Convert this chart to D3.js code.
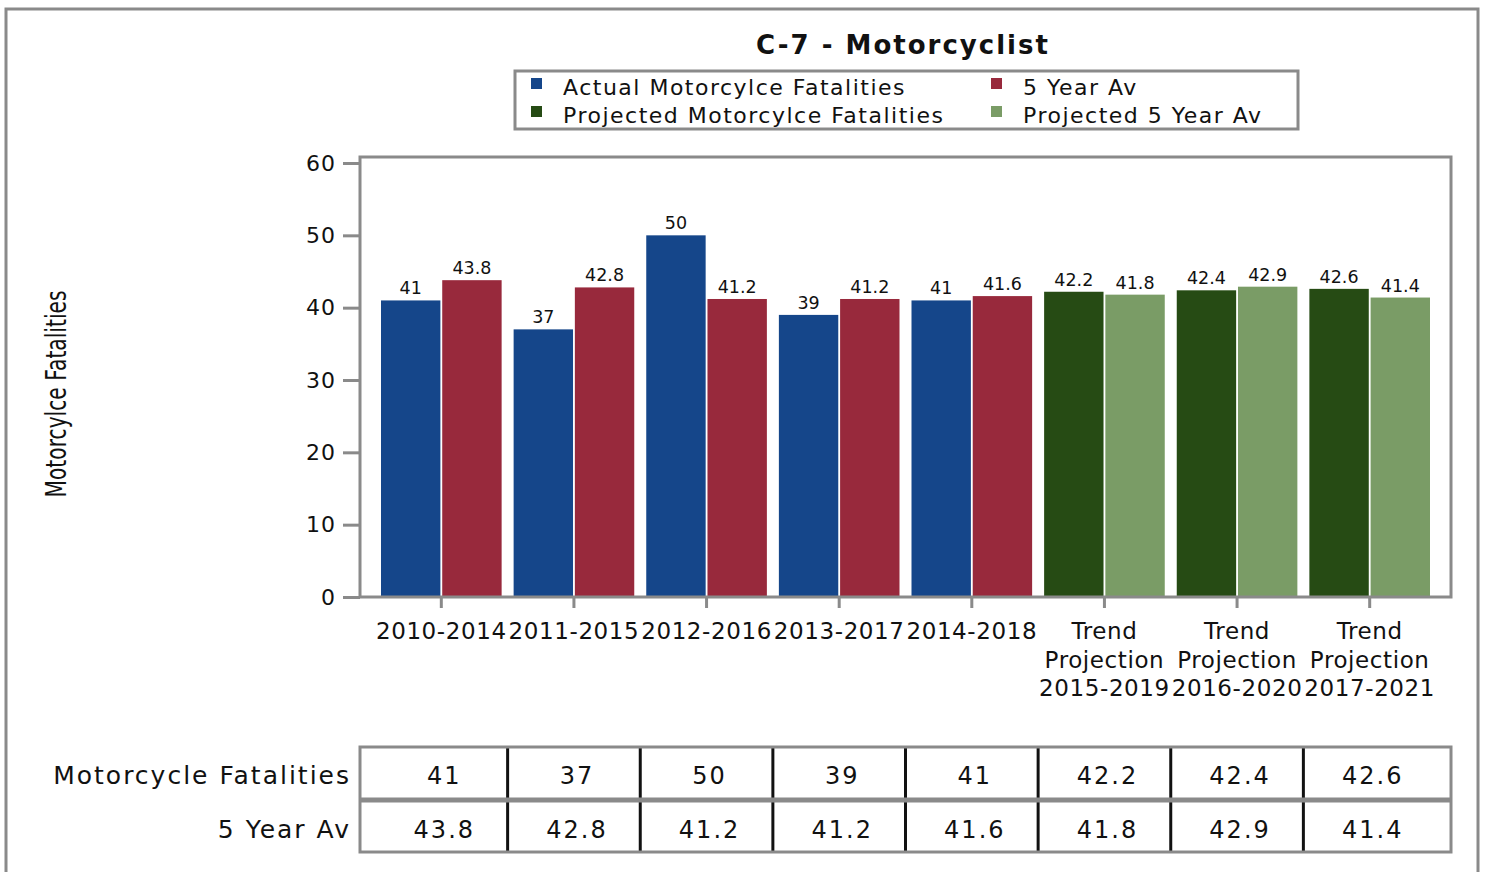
<!DOCTYPE html>
<html>
<head>
<meta charset="utf-8">
<script src="https://cdn.jsdelivr.net/npm/d3@7"></script>
<style>
  body { margin: 0; background: #fff; }
  svg text { font-family: "DejaVu Sans", Verdana, sans-serif; fill: #111; }
</style>
</head>
<body>
<svg id="chart" width="1487" height="872"></svg>
<script>
// chart data
let categories = [
  ["2010-2014"], ["2011-2015"], ["2012-2016"], ["2013-2017"], ["2014-2018"],
  ["Trend", "Projection", "2015-2019"], ["Trend", "Projection", "2016-2020"], ["Trend", "Projection", "2017-2021"]
]
let fatalities = [41, 37, 50, 39, 41, 42.2, 42.4, 42.6]
let fiveYearAv = [43.8, 42.8, 41.2, 41.2, 41.6, 41.8, 42.9, 41.4]
let projected = [false, false, false, false, false, true, true, true]
let yTicks = [0, 10, 20, 30, 40, 50, 60]
let legendItems = ["Actual Motorcylce Fatalities", "5 Year Av", "Projected Motorcylce Fatalities", "Projected 5 Year Av"]
let tableRows = ["Motorcycle Fatalities", "5 Year Av"]

const colors = {
  actual: "#15468a", avg: "#98293c", projActual: "#264b14", projAvg: "#7a9c66"
}
const legendColors = [colors.actual, colors.avg, colors.projActual, colors.projAvg]
const gray = "#8a8a8a"

let svg = d3.select("#chart")

// outer frame
svg.append("rect")
  .attr("x", 6).attr("y", 9).attr("width", 1472).attr("height", 900)
  .attr("fill", "none").attr("stroke", gray).attr("stroke-width", 3)

const plot = { left: 360, right: 1451, top: 157, bottom: 597 }

let x = d3.scaleBand()
  .domain(d3.range(categories.length))
  .range([375, 1436])
  .padding(0)

let inner = d3.scaleBand()
  .domain(["a", "b"])
  .range([6, x.bandwidth() - 6])
  .paddingInner(0.03)

let y = d3.scaleLinear()
  .domain([0, 60])
  .range([plot.bottom, 163])

// title
svg.append("text")
  .attr("x", 903).attr("y", 54)
  .attr("text-anchor", "middle")
  .style("font-size", "26px").style("font-weight", "bold")
  .style("letter-spacing", "2px")
  .text("C-7 - Motorcyclist")

// legend
svg.append("rect")
  .attr("x", 515).attr("y", 71).attr("width", 783).attr("height", 58)
  .attr("fill", "none").attr("stroke", gray).attr("stroke-width", 3)

let legend = svg.append("g")
legendItems.forEach((name, i) => {
  let lx = i % 2 === 0 ? 531 : 991
  let ly = i < 2 ? 87 : 115
  legend.append("rect")
    .attr("x", lx).attr("y", ly - 9).attr("width", 11).attr("height", 11)
    .attr("fill", legendColors[i])
  legend.append("text")
    .attr("x", lx + 32).attr("y", ly + 8)
    .style("font-size", "22px").style("letter-spacing", "1.5px")
    .text(name)
})

// y axis label
svg.append("text")
  .attr("transform", "translate(66,394) rotate(-90)")
  .attr("text-anchor", "middle")
  .attr("textLength", 207)
  .attr("lengthAdjust", "spacingAndGlyphs")
  .style("font-size", "28px")
  .text("Motorcylce Fatalities")

// bars
let groups = svg.append("g")
  .selectAll("g")
  .data(categories.map((c, i) => i))
  .join("g")
  .attr("transform", i => `translate(${x(i)},0)`)

groups.append("rect")
  .attr("x", inner("a"))
  .attr("width", inner.bandwidth())
  .attr("y", i => y(fatalities[i]))
  .attr("height", i => y(0) - y(fatalities[i]))
  .attr("fill", i => projected[i] ? colors.projActual : colors.actual)

groups.append("rect")
  .attr("x", inner("b"))
  .attr("width", inner.bandwidth())
  .attr("y", i => y(fiveYearAv[i]))
  .attr("height", i => y(0) - y(fiveYearAv[i]))
  .attr("fill", i => projected[i] ? colors.projAvg : colors.avg)

groups.append("text")
  .attr("x", inner("a") + inner.bandwidth() / 2)
  .attr("y", i => y(fatalities[i]) - 6)
  .attr("text-anchor", "middle")
  .style("font-size", "17.5px")
  .text(i => fatalities[i])

groups.append("text")
  .attr("x", inner("b") + inner.bandwidth() / 2)
  .attr("y", i => y(fiveYearAv[i]) - 6)
  .attr("text-anchor", "middle")
  .style("font-size", "17.5px")
  .text(i => fiveYearAv[i])

// plot frame
svg.append("rect")
  .attr("x", plot.left).attr("y", plot.top)
  .attr("width", plot.right - plot.left).attr("height", plot.bottom - plot.top)
  .attr("fill", "none").attr("stroke", gray).attr("stroke-width", 3)

// y axis
let yAxis = svg.append("g")
  .attr("transform", `translate(${plot.left},0)`)
  .call(d3.axisLeft(y).tickValues(yTicks).tickSize(17).tickPadding(7))
yAxis.select(".domain").remove()
yAxis.selectAll(".tick line").attr("stroke", gray).attr("stroke-width", 3)
yAxis.selectAll(".tick text")
  .style("font-size", "22px").style("letter-spacing", "1px")
  .attr("fill", "#111")

// x axis ticks and labels
let xAxis = svg.append("g")
  .attr("transform", `translate(0,${plot.bottom})`)
  .call(d3.axisBottom(x).tickSize(11).tickFormat(""))
xAxis.select(".domain").remove()
xAxis.selectAll(".tick line").attr("stroke", gray).attr("stroke-width", 3)

let xLabels = svg.append("g")
  .selectAll("text")
  .data(categories.map((c, i) => i))
  .join("text")
  .attr("x", i => x(i) + x.bandwidth() / 2)
  .attr("y", 639)
  .attr("text-anchor", "middle")
  .style("font-size", "23px")
  .style("letter-spacing", "0.6px")
xLabels.selectAll("tspan")
  .data(i => categories[i].map(line => ({ line, i })))
  .join("tspan")
  .attr("x", d => x(d.i) + x.bandwidth() / 2)
  .attr("dy", (d, k) => k === 0 ? 0 : 28.5)
  .text(d => d.line)

// data table
const table = { top: 747, mid: 800, bottom: 852 }
let colEdges = [plot.left]
  .concat(d3.range(1, categories.length).map(i => x(i)))
  .concat([plot.right])

let tbl = svg.append("g")
colEdges.slice(1, -1).forEach(cx => {
  tbl.append("line")
    .attr("x1", cx).attr("x2", cx)
    .attr("y1", table.top).attr("y2", table.bottom)
    .attr("stroke", "#111").attr("stroke-width", 3)
})
tbl.append("line")
  .attr("x1", plot.left).attr("x2", plot.right)
  .attr("y1", table.mid).attr("y2", table.mid)
  .attr("stroke", gray).attr("stroke-width", 5)
tbl.append("rect")
  .attr("x", plot.left).attr("y", table.top)
  .attr("width", plot.right - plot.left).attr("height", table.bottom - table.top)
  .attr("fill", "none").attr("stroke", gray).attr("stroke-width", 3)

let rowValues = [fatalities, fiveYearAv]
let rowY = [784, 838]
tableRows.forEach((label, r) => {
  tbl.append("text")
    .attr("x", 351).attr("y", rowY[r])
    .attr("text-anchor", "end")
    .style("font-size", "25px").style("letter-spacing", "2px")
    .text(label)
  rowValues[r].forEach((v, i) => {
    tbl.append("text")
      .attr("x", x(i) + x.bandwidth() / 2 + 3).attr("y", rowY[r])
      .attr("text-anchor", "middle")
      .style("font-size", "24px").style("letter-spacing", "2px")
      .text(v)
  })
})
</script>
</body>
</html>
